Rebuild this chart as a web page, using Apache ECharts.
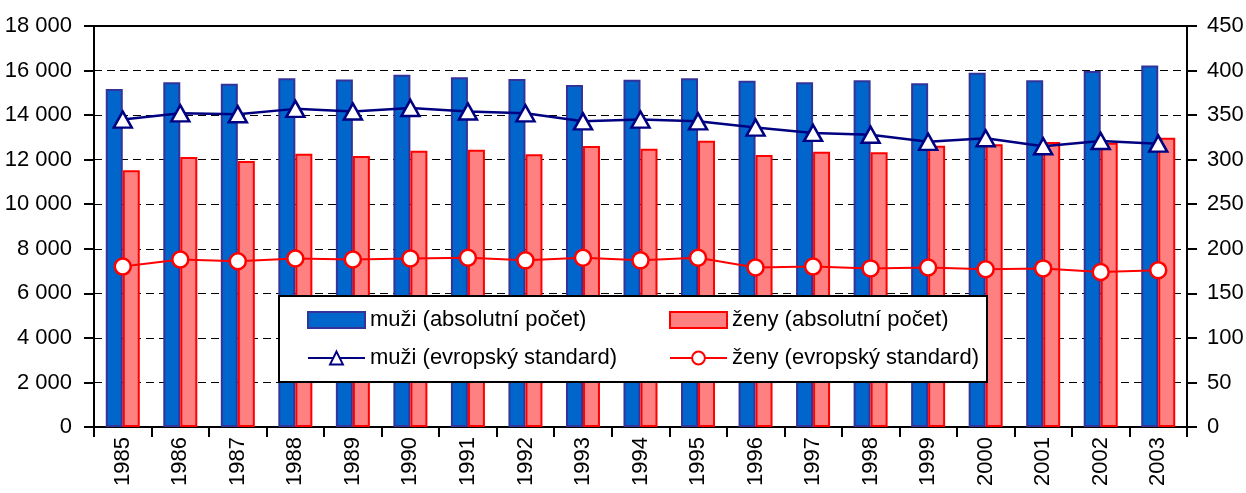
<!DOCTYPE html>
<html>
<head>
<meta charset="utf-8">
<script src="https://cdn.jsdelivr.net/npm/echarts@6/dist/echarts.min.js"></script>
<style>
html,body{margin:0;padding:0;background:#fff;}
#chart{width:1246px;height:493px;}
</style>
</head>
<body>
<div id="chart"></div>
<script>
const years = ['1985','1986','1987','1988','1989','1990','1991','1992','1993','1994','1995','1996','1997','1998','1999','2000','2001','2002','2003'];
const menAbs = [15170,15470,15410,15650,15600,15810,15700,15620,15350,15590,15650,15540,15480,15560,15430,15900,15560,15980,16230];
const womenAbs = [11530,12120,11940,12270,12160,12400,12450,12240,12610,12490,12850,12210,12360,12330,12630,12690,12790,12760,12980];
const menStd = [345,352,351,357,354,358,354,352,343,345,343,336,330,328,320,324,315,321,318];
const womenStd = [180,188,186,189,188,189,190,187,190,187,190,179,180,178,179,177,178,174,176];
const names = ['muži (absolutní počet)','ženy (absolutní počet)','muži (evropský standard)','ženy (evropský standard)'];

const FONT = "'Liberation Sans Narrow','Arial Narrow','Liberation Sans',Arial,sans-serif";
const FS = 22;
const chart = echarts.init(document.getElementById('chart'), null, {renderer:'canvas'});
const fmtThousands = v => String(v).replace(/\B(?=(\d{3})+(?!\d))/g, ' ');

chart.setOption({
  animation:false,
  textStyle:{fontFamily:FONT},
  grid:{left:94,right:59,top:26,bottom:66,outerBoundsMode:'none',containLabel:false,
        show:true,borderColor:'#000',borderWidth:2,backgroundColor:'transparent'},
  legend:{
    left:279, top:296, width:720,
    padding:[10,5,10,28],
    itemGap:10, itemWidth:57, itemHeight:16,
    backgroundColor:'#fff', borderColor:'#000', borderWidth:2,
    textStyle:{fontFamily:FONT,fontSize:FS,color:'#000',lineHeight:28},
    data:[
      {name:names[0],icon:'rect',textStyle:{width:289}},
      {name:names[1],icon:'rect',textStyle:{width:250}},
      {name:names[2],textStyle:{width:289}},
      {name:names[3],textStyle:{width:250}}
    ]
  },
  xAxis:{
    type:'category', data:years, boundaryGap:true,
    axisLine:{lineStyle:{color:'#000',width:2}},
    axisTick:{show:true,interval:0,length:10,lineStyle:{color:'#000',width:2}},
    axisLabel:{interval:0,rotate:90,margin:10,fontFamily:FONT,fontSize:FS,color:'#000'}
  },
  yAxis:[{
    type:'value', min:0, max:18000, interval:2000,
    axisLine:{show:true,lineStyle:{color:'#000',width:2}},
    axisTick:{show:true,length:10,lineStyle:{color:'#000',width:2}},
    axisLabel:{margin:22,fontFamily:FONT,fontSize:FS,color:'#000',formatter:fmtThousands},
    splitLine:{show:true,lineStyle:{color:'#000',width:1,type:[8,5]}}
  },{
    type:'value', min:0, max:450, interval:50, position:'right',
    axisLine:{show:true,lineStyle:{color:'#000',width:2}},
    axisTick:{show:true,length:10,lineStyle:{color:'#000',width:2}},
    axisLabel:{margin:20,fontFamily:FONT,fontSize:FS,color:'#000'},
    splitLine:{show:false}
  }],
  series:[
    {name:names[0],type:'bar',data:menAbs,barWidth:17,barGap:'0%',
     itemStyle:{color:'#0066CC',borderColor:'#333399',borderWidth:2}},
    {name:names[1],type:'bar',data:womenAbs,barWidth:17,barGap:'0%',
     itemStyle:{color:'#FF8080',borderColor:'#FF0000',borderWidth:2}},
    {name:names[2],type:'line',yAxisIndex:1,data:menStd,symbol:'triangle',symbolSize:[18,16],
     lineStyle:{color:'#000080',width:2.5},
     itemStyle:{color:'#fff',borderColor:'#000080',borderWidth:2.5},z:5},
    {name:names[3],type:'line',yAxisIndex:1,data:womenStd,symbol:'circle',symbolSize:16,
     lineStyle:{color:'#FF0000',width:2},
     itemStyle:{color:'#fff',borderColor:'#FF0000',borderWidth:2.5},z:5}
  ]
});
</script>
</body>
</html>
